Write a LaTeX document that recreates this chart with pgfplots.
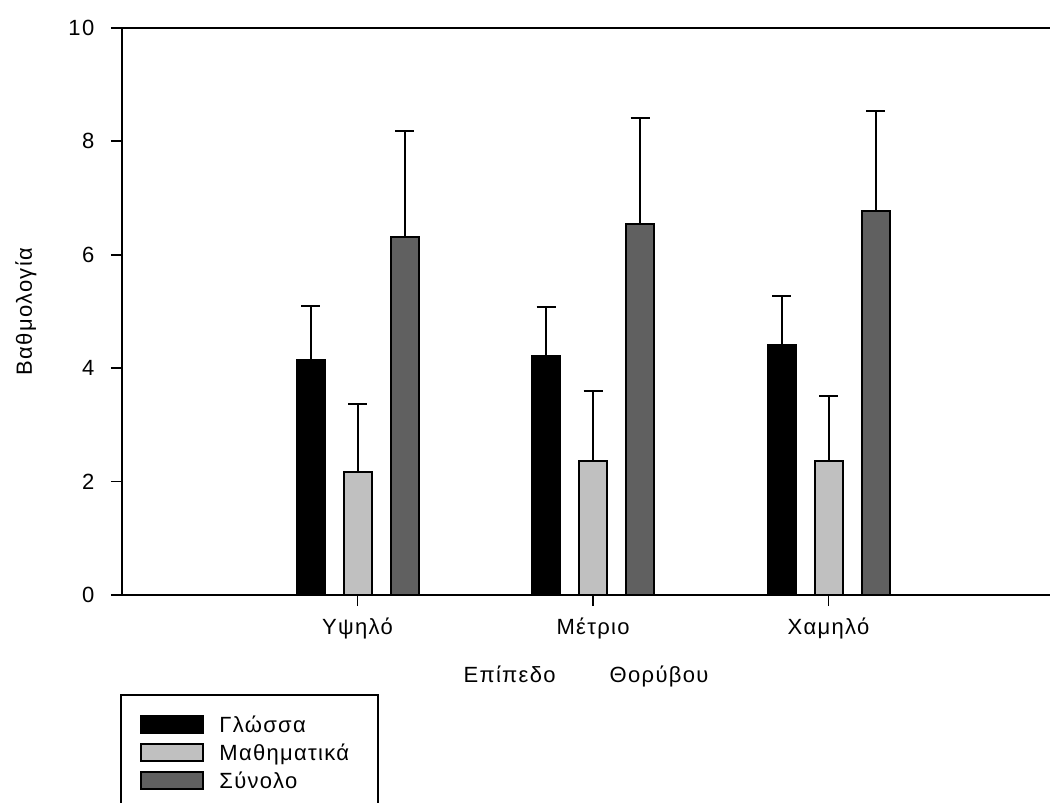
\documentclass[border=0pt]{standalone}
\usepackage{fontspec}
\setmainfont[LetterSpace=6]{Liberation Sans}
\usepackage{pgfplots}
\usepackage{pgfplotstable}
\pgfplotsset{compat=1.18}
\definecolor{lgray}{HTML}{C0C0C0}
\definecolor{dgray}{HTML}{606060}
\pgfplotstableread{
x y e
1 4.14 0.96
2 4.21 0.87
3 4.41 0.86
}\glossa
\pgfplotstableread{
x y e
1 2.17 1.20
2 2.36 1.24
3 2.36 1.15
}\mathima
\pgfplotstableread{
x y e
1 6.31 1.87
2 6.54 1.87
3 6.77 1.77
}\synolo
\pgfplotsset{errs/.style={
    error bars/y dir=plus, error bars/y explicit,
    error bars/error bar style={line width=1pt, black},
    error bars/error mark options={rotate=90, mark size=4.75pt, line width=1pt, black}}}
\begin{document}
\fontsize{11pt}{13.2pt}\selectfont
\begin{tikzpicture}
\begin{axis}[
  at={(0,0)}, anchor=south west,
  scale only axis, width=464pt, height=283.5pt,
  xmin=0, xmax=3.94, ymin=0, ymax=10,
  axis x line=box, axis y line=left,
  axis line style={-, line width=1pt, black},
  xtick={1,2,3}, xticklabels={Υψηλό,Μέτριο,Χαμηλό},
  ytick={0,2,4,6,8,10},
  xtick pos=lower, ytick pos=left,
  tick align=outside, major tick length=5.5pt,
  tick style={line width=0.9pt, black},
  /pgf/number format/assume math mode=true,
  xticklabel style={anchor=base, yshift=-14pt},
  yticklabel style={anchor=east, xshift=-4.5pt},
  ylabel={Βαθμολογία},
  ylabel style={at={(axis description cs:-0.097,0.5)}, anchor=base},
  xlabel={Επίπεδο\hspace{27pt}Θορύβου},
  xlabel style={at={(axis description cs:0.5,0)}, anchor=base, yshift=-43.5pt},
  ybar=9.5pt, bar width=14pt,
  legend image code/.code={\draw[#1, line width=1pt] (0pt,-4.25pt) rectangle (31pt,4.25pt);},
  legend cell align=left,
  legend style={at={(axis description cs:0.0194,-0.2099)}, anchor=north west,
    draw=none, fill=none, inner sep=0pt, row sep=4.2pt, column sep=6.5pt,
    nodes={inner sep=1pt, text height=7.8pt, text depth=0pt}},
]
\addplot[draw=black, line width=1pt, fill=black, errs] table[x=x, y=y, y error=e]{\glossa};
\addplot[draw=black, line width=1pt, fill=lgray, errs] table[x=x, y=y, y error=e]{\mathima};
\addplot[draw=black, line width=1pt, fill=dgray, errs] table[x=x, y=y, y error=e]{\synolo};
\legend{Γλώσσα, Μαθηματικά, Σύνολο}
\end{axis}
\draw[line width=1pt] (-0.5pt,-115pt) |- (128pt,-50pt) -- (128pt,-115pt);
\pgfresetboundingbox
\useasboundingbox (-61pt,-104pt) rectangle (464pt,297.5pt);
\end{tikzpicture}
\end{document}
